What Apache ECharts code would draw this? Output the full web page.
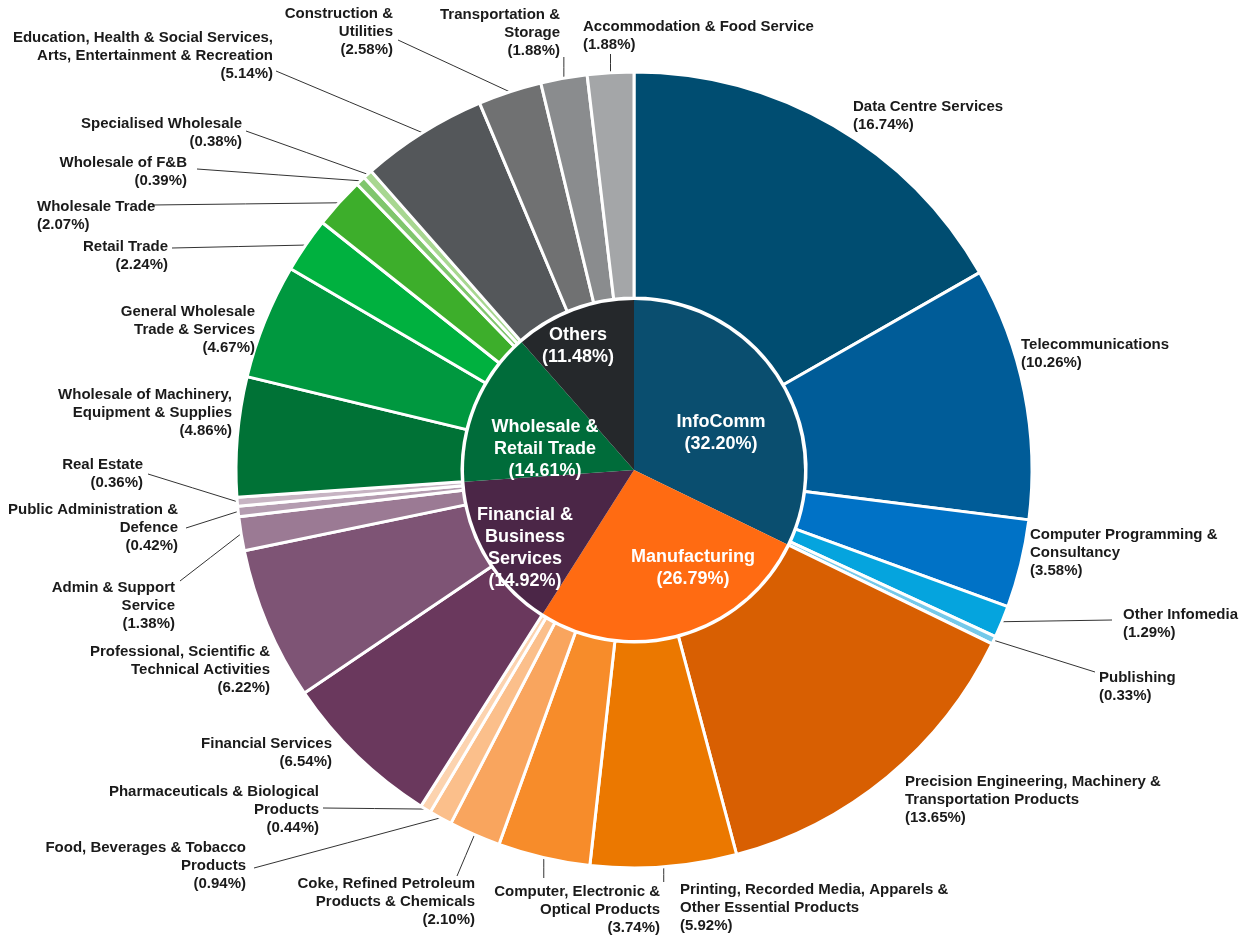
<!DOCTYPE html>
<html>
<head>
<meta charset="utf-8">
<script src="https://cdn.jsdelivr.net/npm/echarts@6/dist/echarts.min.js"></script>
<style>
html,body{margin:0;padding:0;background:#ffffff;}
#chart{width:1240px;height:935px;}
</style>
</head>
<body>
<div id="chart"></div>
<script>
// ---------- DATA ----------
const sectorNames  = ['InfoComm', 'Manufacturing', 'Financial &\nBusiness\nServices', 'Wholesale &\nRetail Trade', 'Others'];
const sectorShares = [32.20, 26.79, 14.92, 14.61, 11.48];

const infocommNames  = ['Data Centre Services', 'Telecommunications', 'Computer Programming &\nConsultancy', 'Other Infomedia', 'Publishing'];
const infocommValues = [16.74, 10.26, 3.58, 1.29, 0.33];

const manufacturingNames  = ['Precision Engineering, Machinery &\nTransportation Products', 'Printing, Recorded Media, Apparels &\nOther Essential Products', 'Computer, Electronic &\nOptical Products', 'Coke, Refined Petroleum\nProducts & Chemicals', 'Food, Beverages & Tobacco\nProducts', 'Pharmaceuticals & Biological\nProducts'];
const manufacturingValues = [13.65, 5.92, 3.74, 2.10, 0.94, 0.44];

const financialNames  = ['Financial Services', 'Professional, Scientific &\nTechnical Activities', 'Admin & Support\nService', 'Public Administration &\nDefence', 'Real Estate'];
const financialValues = [6.54, 6.22, 1.38, 0.42, 0.36];

const wholesaleNames  = ['Wholesale of Machinery,\nEquipment & Supplies', 'General Wholesale\nTrade & Services', 'Retail Trade', 'Wholesale Trade', 'Wholesale of F&B', 'Specialised Wholesale'];
const wholesaleValues = [4.86, 4.67, 2.24, 2.07, 0.39, 0.38];

const othersNames  = ['Education, Health & Social Services,\nArts, Entertainment & Recreation', 'Construction &\nUtilities', 'Transportation &\nStorage', 'Accommodation & Food Service'];
const othersValues = [5.14, 2.58, 1.88, 1.88];

// ---------- STYLES ----------
const sectorColors = ['#0a4e6f', '#ff6b12', '#4b2647', '#006c3a', '#25282b'];
const infocommColors      = ['#004d71', '#005c98', '#0072c6', '#05a4de', '#74c9ea'];
const manufacturingColors = ['#d85f02', '#eb7800', '#f78c2a', '#f9a55e', '#fbbf8b', '#fcd3af'];
const financialColors     = ['#6a385d', '#7e5475', '#9b7a94', '#b49cb0', '#c7b4c3'];
const wholesaleColors     = ['#007236', '#00983f', '#00b13f', '#3dae2b', '#80c66d', '#a8d791'];
const othersColors        = ['#54575a', '#707172', '#8a8c8e', '#a4a6a8'];

// label layout (label anchor x, top y, alignment, optional leader-line end; end x null = vertical)
const outerLayout = [
  {x: 853,  y: 98,  a: 'left'},
  {x: 1021, y: 336, a: 'left'},
  {x: 1030, y: 526, a: 'left'},
  {x: 1123, y: 606, a: 'left',  end: [1112, 620]},
  {x: 1099, y: 669, a: 'left',  end: [1095, 672]},
  {x: 905,  y: 773, a: 'left'},
  {x: 680,  y: 881, a: 'left',  end: [null, 882]},
  {x: 660,  y: 883, a: 'right', end: [null, 878]},
  {x: 475,  y: 875, a: 'right', end: [457, 876]},
  {x: 246,  y: 839, a: 'right', end: [254, 868]},
  {x: 319,  y: 783, a: 'right', end: [323, 808]},
  {x: 332,  y: 735, a: 'right'},
  {x: 270,  y: 643, a: 'right'},
  {x: 175,  y: 579, a: 'right', end: [180, 581]},
  {x: 178,  y: 501, a: 'right', end: [186, 528]},
  {x: 143,  y: 456, a: 'right', end: [148, 474]},
  {x: 232,  y: 386, a: 'right'},
  {x: 255,  y: 303, a: 'right'},
  {x: 168,  y: 238, a: 'right', end: [172, 248]},
  {x: 37,   y: 198, a: 'left',  end: [152, 205]},
  {x: 187,  y: 154, a: 'right', end: [197, 169]},
  {x: 242,  y: 115, a: 'right', end: [246, 131]},
  {x: 273,  y: 29,  a: 'right', end: [276, 71]},
  {x: 393,  y: 5,   a: 'right', end: [398, 40]},
  {x: 560,  y: 6,   a: 'right', end: [null, 57]},
  {x: 583,  y: 18,  a: 'left',  end: [null, 54]}
];
const innerLayout = [
  {x: 721, y: 411},
  {x: 693, y: 546},
  {x: 525, y: 504},
  {x: 545, y: 416},
  {x: 578, y: 324}
];

// ---------- BUILD ----------
const groups = [
  [infocommNames, infocommValues, infocommColors],
  [manufacturingNames, manufacturingValues, manufacturingColors],
  [financialNames, financialValues, financialColors],
  [wholesaleNames, wholesaleValues, wholesaleColors],
  [othersNames, othersValues, othersColors]
];
const outerData = [];
groups.forEach(g => {
  g[0].forEach((n, i) => {
    outerData.push({ name: n, value: g[1][i], itemStyle: { color: g[2][i] } });
  });
});
outerData.forEach((d, i) => {
  d.labelLine = { show: !!outerLayout[i].end };
});
const innerData = sectorNames.map((n, i) => ({ name: n, value: sectorShares[i], itemStyle: { color: sectorColors[i] } }));

const FONT = '"Liberation Sans", Arial, Helvetica, sans-serif';
const fmt = p => p.name + '\n(' + Number(p.value).toFixed(2) + '%)';
const CENTER = [634, 470];

const chart = echarts.init(document.getElementById('chart'), null, { renderer: 'canvas' });
chart.setOption({
  backgroundColor: '#ffffff',
  animation: false,
  series: [
    {
      type: 'pie',
      name: 'Sub-sector',
      center: CENTER,
      radius: [172, 398],
      startAngle: 90,
      clockwise: true,
      avoidLabelOverlap: false,
      silent: true,
      itemStyle: { borderColor: '#ffffff', borderWidth: 3 },
      label: {
        show: true,
        position: 'outside',
        formatter: fmt,
        color: '#1a1a1a',
        fontFamily: FONT,
        fontWeight: 'bold',
        fontSize: 15,
        lineHeight: 18
      },
      labelLine: { show: true, length: 10, length2: 10, lineStyle: { color: '#333333', width: 1 } },
      labelLayout: p => {
        const L = outerLayout[p.dataIndex];
        const res = { x: L.x, y: L.y, align: L.a, verticalAlign: 'top' };
        if (L.end && p.labelLinePoints && p.labelLinePoints.length) {
          const s = p.labelLinePoints[0];
          const e = [L.end[0] == null ? s[0] : L.end[0], L.end[1]];
          res.labelLinePoints = [[s[0], s[1]], [(s[0] + e[0]) / 2, (s[1] + e[1]) / 2], e];
        }
        return res;
      },
      data: outerData,
      z: 2
    },
    {
      type: 'pie',
      name: 'Sector',
      center: CENTER,
      radius: [0, 170],
      startAngle: 90,
      clockwise: true,
      avoidLabelOverlap: false,
      silent: true,
      itemStyle: { borderWidth: 0 },
      label: {
        show: true,
        position: 'inside',
        formatter: fmt,
        color: '#ffffff',
        fontFamily: FONT,
        fontWeight: 'bold',
        fontSize: 18,
        lineHeight: 22
      },
      labelLine: { show: false },
      labelLayout: p => {
        const L = innerLayout[p.dataIndex];
        return { x: L.x, y: L.y, align: 'center', verticalAlign: 'top' };
      },
      data: innerData,
      z: 4
    }
  ]
});
</script>
</body>
</html>
